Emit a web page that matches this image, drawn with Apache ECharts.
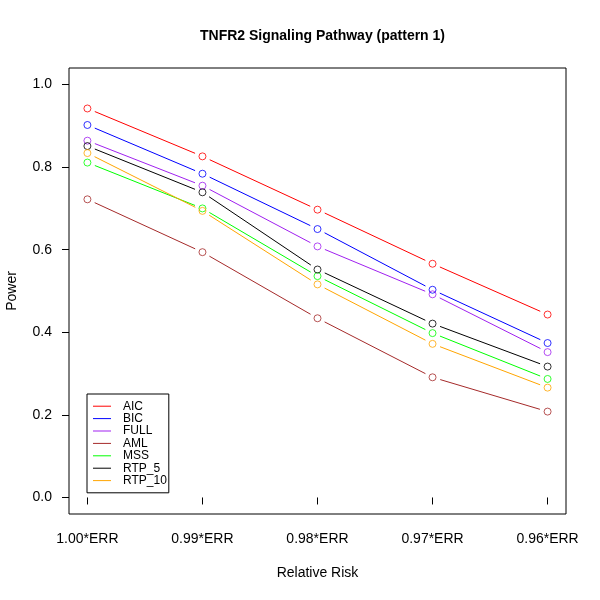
<!DOCTYPE html>
<html>
<head>
<meta charset="utf-8">
<script src="https://cdn.jsdelivr.net/npm/echarts@6/dist/echarts.min.js"></script>
<style>html,body{margin:0;padding:0;background:#fff}#c{width:600px;height:600px}</style>
</head>
<body>
<div id="c"></div>
<script>
// ---- data ----
const categories = ['1.00*ERR', '0.99*ERR', '0.98*ERR', '0.97*ERR', '0.96*ERR'];
const yTicks = [0, 0.2, 0.4, 0.6, 0.8, 1.0];
const seriesNames = ['AIC', 'BIC', 'FULL', 'AML', 'MSS', 'RTP_5', 'RTP_10'];
const AIC    = [0.942, 0.826, 0.697, 0.566, 0.443];
const BIC    = [0.902, 0.784, 0.650, 0.503, 0.374];
const FULL   = [0.864, 0.755, 0.608, 0.492, 0.352];
const AML    = [0.722, 0.594, 0.434, 0.291, 0.208];
const MSS    = [0.811, 0.700, 0.536, 0.398, 0.287];
const RTP_5  = [0.851, 0.739, 0.552, 0.421, 0.317];
const RTP_10 = [0.834, 0.694, 0.516, 0.372, 0.266];
const seriesValues = [AIC, BIC, FULL, AML, MSS, RTP_5, RTP_10];
const colors = ['#FF0000', '#0000FF', '#A020F0', '#A52A2A', '#00FF00', '#000000', '#FFA500'];

const FONT = '"Liberation Sans", Arial, Helvetica, sans-serif';
const xPos = categories.map((c, i) => i + 1);
const GAP = 8;

const series = [];
seriesValues.forEach((vals, k) => {
  const segs = vals.slice(0, -1).map((v, i) => [xPos[i], v, xPos[i + 1], vals[i + 1]]);
  series.push({
    type: 'custom',
    name: seriesNames[k],
    itemStyle: { color: colors[k] },
    encode: { x: [0, 2], y: [1, 3] },
    data: segs,
    z: 2,
    renderItem: function (params, api) {
      const p0 = api.coord([api.value(0), api.value(1)]);
      const p1 = api.coord([api.value(2), api.value(3)]);
      const dx = p1[0] - p0[0], dy = p1[1] - p0[1];
      const len = Math.sqrt(dx * dx + dy * dy);
      if (len <= 2 * GAP) return null;
      const ux = dx / len, uy = dy / len;
      return {
        type: 'line',
        shape: { x1: p0[0] + ux * GAP, y1: p0[1] + uy * GAP, x2: p1[0] - ux * GAP, y2: p1[1] - uy * GAP },
        style: { stroke: colors[k], lineWidth: 1 }
      };
    }
  });
  series.push({
    type: 'scatter',
    name: seriesNames[k] + ' pts',
    symbol: 'circle',
    symbolSize: 7,
    itemStyle: { color: 'transparent', borderColor: colors[k], borderWidth: 1 },
    data: vals.map((v, i) => [xPos[i], v]),
    z: 3,
    emphasis: { disabled: true }
  });
});

const chart = echarts.init(document.getElementById('c'), null, { renderer: 'canvas' });
chart.setOption({
  animation: false,
  backgroundColor: '#fff',
  textStyle: { fontFamily: FONT },
  title: {
    text: 'TNFR2 Signaling Pathway (pattern 1)',
    left: 317.5, top: 24, textAlign: 'center',
    textStyle: { fontFamily: FONT, fontSize: 14, fontWeight: 'bold', color: '#000' }
  },
  grid: {
    left: 69, top: 68, width: 497, height: 446,
    containLabel: false, outerBoundsMode: 'none',
    show: true, borderColor: '#000', borderWidth: 1, backgroundColor: 'transparent'
  },
  xAxis: {
    type: 'value', min: 0.84, max: 5.16,
    name: 'Relative Risk', nameLocation: 'middle', nameGap: 52,
    nameTextStyle: { fontFamily: FONT, fontSize: 14, color: '#000' },
    axisLine: { show: false },
    splitLine: { show: false },
    axisTick: { show: true, length: 7, lineStyle: { color: '#000' }, customValues: xPos },
    axisLabel: {
      customValues: xPos, margin: 18, fontFamily: FONT, fontSize: 14, color: '#000',
      formatter: v => categories[Math.round(v) - 1]
    }
  },
  yAxis: {
    type: 'value', min: -0.04, max: 1.04,
    name: 'Power', nameLocation: 'middle', nameGap: 50, nameRotate: 90,
    nameTextStyle: { fontFamily: FONT, fontSize: 14, color: '#000' },
    axisLine: { show: false },
    splitLine: { show: false },
    axisTick: { show: true, length: 7, lineStyle: { color: '#000' }, customValues: yTicks },
    axisLabel: {
      customValues: yTicks, margin: 17, fontFamily: FONT, fontSize: 14, color: '#000',
      formatter: v => v.toFixed(1)
    }
  },
  legend: {
    data: seriesNames,
    orient: 'vertical', left: 87, top: 394,
    padding: [6, 2, 6, 6],
    borderColor: '#000', borderWidth: 1, borderRadius: 0,
    backgroundColor: '#fff',
    icon: 'rect', itemWidth: 18, itemHeight: 1, itemGap: 0,
    selectedMode: false,
    textStyle: { fontFamily: FONT, fontSize: 12, color: '#000', lineHeight: 12.4, padding: [0, 0, 0, 7] }
  },
  series: series
});
</script>
</body>
</html>
